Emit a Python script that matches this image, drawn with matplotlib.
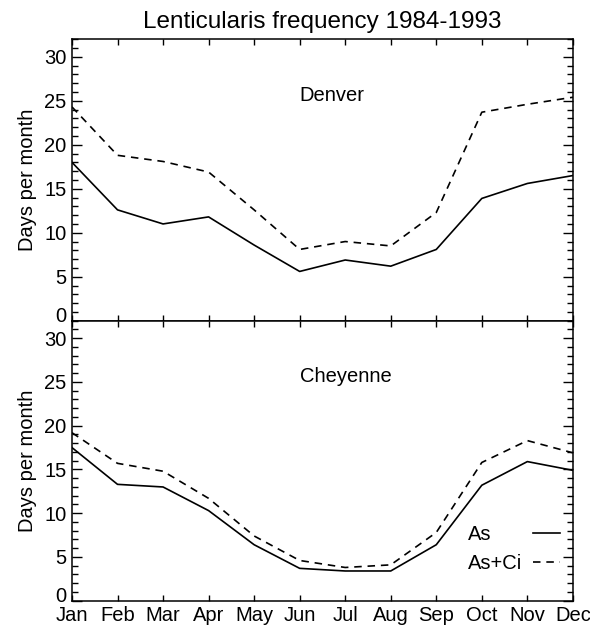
import matplotlib
matplotlib.use("Agg")
from matplotlib import pyplot as plt
from matplotlib.transforms import ScaledTranslation

plt.rcParams["font.family"] = ["Liberation Sans", "DejaVu Sans"]
plt.rcParams["font.size"] = 14.5

months = ["Jan", "Feb", "Mar", "Apr", "May", "Jun",
          "Jul", "Aug", "Sep", "Oct", "Nov", "Dec"]
stations = ["Denver", "Cheyenne"]
series_names = ["As", "As+Ci"]

denver_as = [18.0, 12.6, 11.0, 11.8, 8.6, 5.6, 6.9, 6.2, 8.1, 13.9, 15.6, 16.5]
denver_asci = [24.3, 18.8, 18.1, 16.9, 12.6, 8.1, 9.0, 8.5, 12.3, 23.7, 24.6, 25.4]
cheyenne_as = [17.5, 13.3, 13.0, 10.3, 6.4, 3.7, 3.4, 3.4, 6.4, 13.2, 15.9, 14.9]
cheyenne_asci = [19.2, 15.7, 14.8, 11.7, 7.4, 4.6, 3.8, 4.1, 7.8, 15.8, 18.3, 16.9]

yticks = [0, 5, 10, 15, 20, 25, 30]

fig = plt.figure(figsize=(5.9, 6.27), dpi=100)
ax_top = fig.add_axes([0.122, 0.4885, 0.849, 0.449])
ax_bot = fig.add_axes([0.122, 0.0419, 0.849, 0.4466])

x = list(range(len(months)))
for ax, name, s1, s2 in [(ax_top, stations[0], denver_as, denver_asci),
                         (ax_bot, stations[1], cheyenne_as, cheyenne_asci)]:
  ax.plot(x, s1, color="black", lw=1.2, label=series_names[0])
  ax.plot(x, s2, color="black", lw=1.2, dashes=(4.5, 3.5), label=series_names[1])
  ax.set_xlim(0, 11)
  ax.set_ylim(0, 32)
  ax.set_xticks(x)
  ax.set_yticks(yticks)
  ax.set_yticks(range(0, 33), minor=True)
  ax.tick_params(axis="both", which="both", direction="in", top=True, right=True,
                 width=1.0, labelsize=14.5)
  ax.tick_params(axis="y", which="major", length=7.5, pad=4)
  ax.tick_params(axis="y", which="minor", length=4)
  ax.tick_params(axis="x", which="major", length=4, pad=4)
  for sp in ax.spines.values():
    sp.set_linewidth(1.1)
  ax.set_ylabel("Days per month", fontsize=14.5, labelpad=5)
  ax.text(5, 25, name, fontsize=14.5, ha="left", va="baseline")
  # IDL style: lift the zero label a little
  ticks = ax.yaxis.get_major_ticks()
  lab = ticks[0].label1
  lab.set_transform(lab.get_transform() + ScaledTranslation(0, 6 / 100, fig.dpi_scale_trans))

ax_top.set_xticklabels([])
ax_bot.set_xticklabels(months)
ax_top.set_title("Lenticularis frequency 1984-1993", fontsize=17.5, pad=8)

leg = ax_bot.legend(loc="upper left", bbox_to_anchor=(0.79, 0.272), frameon=False,
                    markerfirst=False, handlelength=1.35, handletextpad=0.55,
                    labelspacing=0.5, borderpad=0, borderaxespad=0, fontsize=14.5)

# left-align the legend labels (IDL style) by widening the gap on short rows
fig.canvas.draw()
r = fig.canvas.get_renderer()
widths = [t.get_window_extent(r).width for t in leg.get_texts()]
rows = leg._legend_handle_box.get_children()[0].get_children()
for row, w in zip(rows, widths):
  row.sep += (max(widths) - w) * 72 / fig.dpi

fig.savefig("out.png", dpi=100)
